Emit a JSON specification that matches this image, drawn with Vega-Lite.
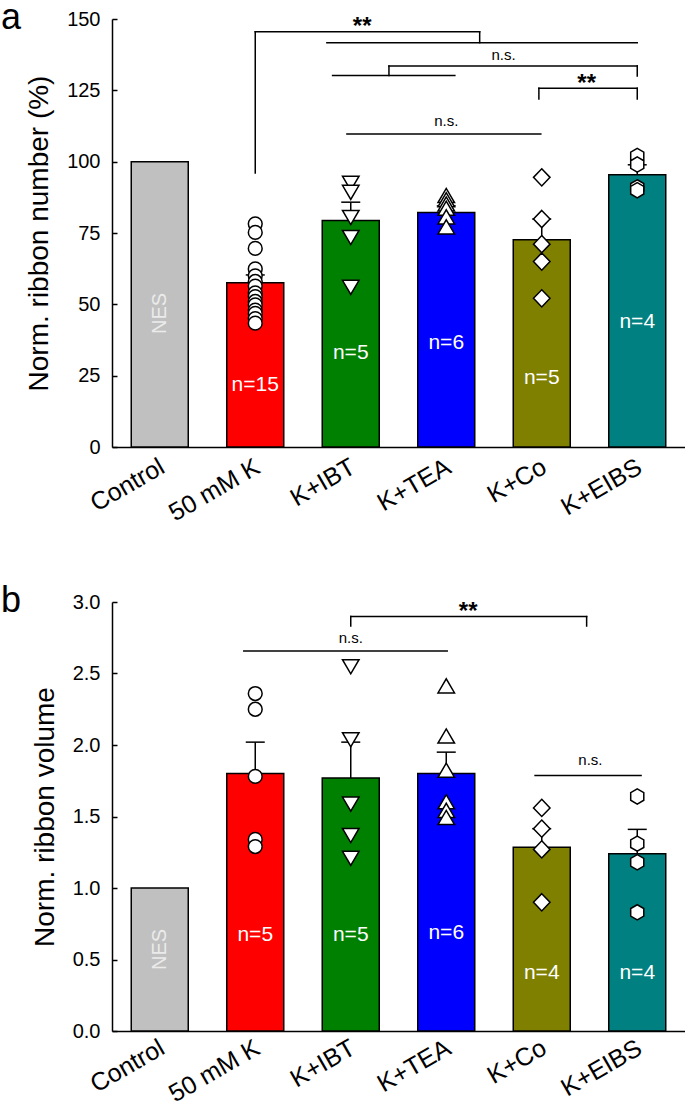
{
  "$schema": "https://vega.github.io/schema/vega-lite/v6.json",
  "background": "white",
  "padding": {"left": 1, "top": 0, "right": 0, "bottom": 0},
  "config": {
    "view": {"stroke": null},
    "font": "Liberation Sans",
    "axis": {"domainColor": "black", "domainWidth": 1.5, "tickColor": "black", "tickWidth": 1.5, "labelColor": "black", "titleColor": "black", "grid": false, "labelFont": "Liberation Sans", "titleFont": "Liberation Sans", "titleFontWeight": "normal", "labelFlush": false, "labelOverlap": false},
    "title": {"font": "Liberation Sans", "fontWeight": "normal", "fontSize": 36, "anchor": "start", "frame": "group", "baseline": "alphabetic", "offset": -28, "dx": -111, "dy": 0, "color": "black"},
    "concat": {"spacing": 57}
  },
  "datasets": {
    "bars": [
      {"p": "a", "x": 0, "g": "Control", "y": 100},
      {"p": "a", "x": 1, "g": "50 mM K", "y": 57.6, "top": 60.3},
      {"p": "a", "x": 2, "g": "K+IBT", "y": 79.4, "top": 85.8},
      {"p": "a", "x": 3, "g": "K+TEA", "y": 82.2, "top": 84.5},
      {"p": "a", "x": 4, "g": "K+Co", "y": 72.6, "top": 79.9},
      {"p": "a", "x": 5, "g": "K+EIBS", "y": 95.4, "top": 98.9},
      {"p": "b", "x": 0, "g": "Control", "y": 1.0},
      {"p": "b", "x": 1, "g": "50 mM K", "y": 1.80, "top": 2.02},
      {"p": "b", "x": 2, "g": "K+IBT", "y": 1.77, "top": 2.02},
      {"p": "b", "x": 3, "g": "K+TEA", "y": 1.80, "top": 1.95},
      {"p": "b", "x": 4, "g": "K+Co", "y": 1.285, "top": 1.415},
      {"p": "b", "x": 5, "g": "K+EIBS", "y": 1.24, "top": 1.41}
    ],
    "points": [
      {"p": "a", "x": 1, "g": "50 mM K", "y": 78.2},
      {"p": "a", "x": 1, "g": "50 mM K", "y": 75.2},
      {"p": "a", "x": 1, "g": "50 mM K", "y": 69.6},
      {"p": "a", "x": 1, "g": "50 mM K", "y": 62.4},
      {"p": "a", "x": 1, "g": "50 mM K", "y": 60.0},
      {"p": "a", "x": 1, "g": "50 mM K", "y": 58.0},
      {"p": "a", "x": 1, "g": "50 mM K", "y": 56.4},
      {"p": "a", "x": 1, "g": "50 mM K", "y": 54.0},
      {"p": "a", "x": 1, "g": "50 mM K", "y": 52.7},
      {"p": "a", "x": 1, "g": "50 mM K", "y": 51.0},
      {"p": "a", "x": 1, "g": "50 mM K", "y": 49.8},
      {"p": "a", "x": 1, "g": "50 mM K", "y": 48.0},
      {"p": "a", "x": 1, "g": "50 mM K", "y": 46.8},
      {"p": "a", "x": 1, "g": "50 mM K", "y": 45.0},
      {"p": "a", "x": 1, "g": "50 mM K", "y": 43.4},
      {"p": "a", "x": 2, "g": "K+IBT", "y": 93.1},
      {"p": "a", "x": 2, "g": "K+IBT", "y": 89.9},
      {"p": "a", "x": 2, "g": "K+IBT", "y": 81.1},
      {"p": "a", "x": 2, "g": "K+IBT", "y": 74.1},
      {"p": "a", "x": 2, "g": "K+IBT", "y": 56.6},
      {"p": "a", "x": 3, "g": "K+TEA", "y": 87.5},
      {"p": "a", "x": 3, "g": "K+TEA", "y": 86.0},
      {"p": "a", "x": 3, "g": "K+TEA", "y": 84.5},
      {"p": "a", "x": 3, "g": "K+TEA", "y": 83.0},
      {"p": "a", "x": 3, "g": "K+TEA", "y": 80.0},
      {"p": "a", "x": 3, "g": "K+TEA", "y": 76.5},
      {"p": "a", "x": 4, "g": "K+Co", "y": 94.5},
      {"p": "a", "x": 4, "g": "K+Co", "y": 79.9},
      {"p": "a", "x": 4, "g": "K+Co", "y": 71.1},
      {"p": "a", "x": 4, "g": "K+Co", "y": 65.0},
      {"p": "a", "x": 4, "g": "K+Co", "y": 52.1},
      {"p": "a", "x": 5, "g": "K+EIBS", "y": 102.0},
      {"p": "a", "x": 5, "g": "K+EIBS", "y": 99.0},
      {"p": "a", "x": 5, "g": "K+EIBS", "y": 91.0},
      {"p": "a", "x": 5, "g": "K+EIBS", "y": 90.0},
      {"p": "b", "x": 1, "g": "50 mM K", "y": 2.36},
      {"p": "b", "x": 1, "g": "50 mM K", "y": 2.25},
      {"p": "b", "x": 1, "g": "50 mM K", "y": 1.78},
      {"p": "b", "x": 1, "g": "50 mM K", "y": 1.34},
      {"p": "b", "x": 1, "g": "50 mM K", "y": 1.29},
      {"p": "b", "x": 2, "g": "K+IBT", "y": 2.56},
      {"p": "b", "x": 2, "g": "K+IBT", "y": 2.05},
      {"p": "b", "x": 2, "g": "K+IBT", "y": 1.60},
      {"p": "b", "x": 2, "g": "K+IBT", "y": 1.38},
      {"p": "b", "x": 2, "g": "K+IBT", "y": 1.22},
      {"p": "b", "x": 3, "g": "K+TEA", "y": 2.40},
      {"p": "b", "x": 3, "g": "K+TEA", "y": 2.05},
      {"p": "b", "x": 3, "g": "K+TEA", "y": 1.81},
      {"p": "b", "x": 3, "g": "K+TEA", "y": 1.59},
      {"p": "b", "x": 3, "g": "K+TEA", "y": 1.53},
      {"p": "b", "x": 3, "g": "K+TEA", "y": 1.48},
      {"p": "b", "x": 4, "g": "K+Co", "y": 1.56},
      {"p": "b", "x": 4, "g": "K+Co", "y": 1.415},
      {"p": "b", "x": 4, "g": "K+Co", "y": 1.27},
      {"p": "b", "x": 4, "g": "K+Co", "y": 0.90},
      {"p": "b", "x": 5, "g": "K+EIBS", "y": 1.64},
      {"p": "b", "x": 5, "g": "K+EIBS", "y": 1.31},
      {"p": "b", "x": 5, "g": "K+EIBS", "y": 1.18},
      {"p": "b", "x": 5, "g": "K+EIBS", "y": 0.83}
    ],
    "segs": [
      {"p": "a", "x": 1, "x2": 1, "y": 96, "y2": 145.5},
      {"p": "a", "x": 1, "x2": 3.35, "y": 145.5, "y2": 145.5},
      {"p": "a", "x": 3.35, "x2": 3.35, "y": 145.5, "y2": 141.7},
      {"p": "a", "x": 1.75, "x2": 5, "y": 141.7, "y2": 141.7},
      {"p": "a", "x": 2.4, "x2": 5, "y": 133.5, "y2": 133.5},
      {"p": "a", "x": 5, "x2": 5, "y": 133.5, "y2": 130},
      {"p": "a", "x": 2.4, "x2": 2.4, "y": 133.5, "y2": 130.2},
      {"p": "a", "x": 1.81, "x2": 3.09, "y": 130.2, "y2": 130.2},
      {"p": "a", "x": 3.97, "x2": 5, "y": 125.7, "y2": 125.7},
      {"p": "a", "x": 3.97, "x2": 3.97, "y": 125.7, "y2": 122},
      {"p": "a", "x": 5, "x2": 5, "y": 125.7, "y2": 122},
      {"p": "a", "x": 1.96, "x2": 3.99, "y": 109.7, "y2": 109.7},
      {"p": "b", "x": 2, "x2": 4.47, "y": 2.898, "y2": 2.898},
      {"p": "b", "x": 2, "x2": 2, "y": 2.898, "y2": 2.832},
      {"p": "b", "x": 4.47, "x2": 4.47, "y": 2.898, "y2": 2.832},
      {"p": "b", "x": 0.88, "x2": 3.01, "y": 2.657, "y2": 2.657},
      {"p": "b", "x": 3.93, "x2": 5.04, "y": 1.786, "y2": 1.786}
    ],
    "notes": [
      {"p": "a", "k": "star", "x": 2.12, "y": 144.6, "t": "**"},
      {"p": "a", "k": "ns", "x": 3.6, "y": 135.7, "t": "n.s."},
      {"p": "a", "k": "star", "x": 4.47, "y": 124.8, "t": "**"},
      {"p": "a", "k": "ns", "x": 3.0, "y": 112.4, "t": "n.s."},
      {"p": "a", "k": "n", "x": 1, "y": 19.5, "t": "n=15"},
      {"p": "a", "k": "n", "x": 2, "y": 30.9, "t": "n=5"},
      {"p": "a", "k": "n", "x": 3, "y": 34.4, "t": "n=6"},
      {"p": "a", "k": "n", "x": 4, "y": 22.1, "t": "n=5"},
      {"p": "a", "k": "n", "x": 5, "y": 41.7, "t": "n=4"},
      {"p": "a", "k": "nes", "x": 0, "y": 46.8, "t": "NES"},
      {"p": "b", "k": "star", "x": 3.23, "y": 2.88, "t": "**"},
      {"p": "b", "k": "ns", "x": 2.0, "y": 2.71, "t": "n.s."},
      {"p": "b", "k": "ns", "x": 4.51, "y": 1.863, "t": "n.s."},
      {"p": "b", "k": "n", "x": 1, "y": 0.626, "t": "n=5"},
      {"p": "b", "k": "n", "x": 2, "y": 0.626, "t": "n=5"},
      {"p": "b", "k": "n", "x": 3, "y": 0.642, "t": "n=6"},
      {"p": "b", "k": "n", "x": 4, "y": 0.362, "t": "n=4"},
      {"p": "b", "k": "n", "x": 5, "y": 0.362, "t": "n=4"},
      {"p": "b", "k": "nes", "x": 0, "y": 0.571, "t": "NES"}
    ]
  },
  "vconcat": [
    {
      "title": "a",
      "width": 573,
      "height": 428,
      "encoding": {
        "x": {"field": "x", "type": "quantitative", "scale": {"domain": [-0.5, 5.5], "nice": false, "zero": false, "padding": 0},
              "axis": {"values": [0, 1, 2, 3, 4, 5], "labelExpr": "['Control','50 mM K','K+IBT','K+TEA','K+Co','K+EIBS'][datum.value]", "labelAngle": -30, "labelAlign": "right", "labelBaseline": "top", "labelFontSize": 25, "labelPadding": 7, "labelOffset": -4, "ticks": false, "title": null}},
        "y": {"field": "y", "type": "quantitative", "scale": {"domain": [0, 150], "nice": false, "padding": 0},
              "axis": {"values": [0, 25, 50, 75, 100, 125, 150], "tickSize": -5, "labelPadding": 17, "labelFontSize": 20, "titleFontSize": 28, "title": "Norm. ribbon number (%)", "titlePadding": 13}}
      },
      "layer": [
        {"data": {"name": "bars"}, "transform": [{"filter": "datum.p == 'a'"}],
         "mark": {"type": "bar", "orient": "vertical", "size": 57, "stroke": "black", "strokeWidth": 1.5},
         "encoding": {"color": {"field": "g", "type": "nominal", "legend": null, "scale": {"domain": ["Control", "50 mM K", "K+IBT", "K+TEA", "K+Co", "K+EIBS"], "range": ["#c0c0c0", "#ff0000", "#008000", "#0000ff", "#808000", "#008080"]}}}},
        {"data": {"name": "bars"}, "transform": [{"filter": "datum.p == 'a' && isValid(datum.top)"}],
         "mark": {"type": "rule", "color": "black", "strokeWidth": 1.5},
         "encoding": {"y2": {"field": "top"}}},
        {"data": {"name": "bars"}, "transform": [{"filter": "datum.p == 'a' && isValid(datum.top)"}],
         "mark": {"type": "tick", "orient": "horizontal", "size": 19, "thickness": 1.5, "color": "black", "opacity": 1},
         "encoding": {"y": {"field": "top", "type": "quantitative"}}},
        {"data": {"name": "points"}, "transform": [{"filter": "datum.p == 'a'"}],
         "mark": {"type": "point", "filled": true, "fill": "white", "stroke": "black", "strokeWidth": 1.5, "size": 190, "opacity": 1},
         "encoding": {"shape": {"field": "g", "type": "nominal", "legend": null, "scale": {"domain": ["50 mM K", "K+IBT", "K+TEA", "K+Co", "K+EIBS"], "range": ["circle", "M-1.2,-0.75L1.2,-0.75L0,1.3Z", "M-1.2,0.75L1.2,0.75L0,-1.3Z", "M0,-1.25L1.2,0L0,1.25L-1.2,0Z", "M0,-1.1L0.95,-0.55L0.95,0.55L0,1.1L-0.95,0.55L-0.95,-0.55Z"]}}}},
        {"data": {"name": "segs"}, "transform": [{"filter": "datum.p == 'a'"}],
         "mark": {"type": "rule", "color": "black", "strokeWidth": 1.5, "strokeCap": "square"},
         "encoding": {"x2": {"field": "x2"}, "y2": {"field": "y2"}}},
        {"data": {"name": "notes"}, "transform": [{"filter": "datum.p == 'a' && datum.k == 'star'"}],
         "mark": {"type": "text", "fontSize": 24, "fontWeight": "bold", "align": "center", "baseline": "alphabetic", "color": "black"},
         "encoding": {"text": {"field": "t"}}},
        {"data": {"name": "notes"}, "transform": [{"filter": "datum.p == 'a' && datum.k == 'ns'"}],
         "mark": {"type": "text", "fontSize": 15, "align": "center", "baseline": "alphabetic", "color": "black"},
         "encoding": {"text": {"field": "t"}}},
        {"data": {"name": "notes"}, "transform": [{"filter": "datum.p == 'a' && datum.k == 'n'"}],
         "mark": {"type": "text", "fontSize": 21, "align": "center", "baseline": "alphabetic", "color": "white"},
         "encoding": {"text": {"field": "t"}}},
        {"data": {"name": "notes"}, "transform": [{"filter": "datum.p == 'a' && datum.k == 'nes'"}],
         "mark": {"type": "text", "fontSize": 20, "align": "center", "baseline": "middle", "angle": 270, "color": "#ebebeb"},
         "encoding": {"text": {"field": "t"}}}
      ]
    },
    {
      "title": "b",
      "width": 573,
      "height": 429,
      "encoding": {
        "x": {"field": "x", "type": "quantitative", "scale": {"domain": [-0.5, 5.5], "nice": false, "zero": false, "padding": 0},
              "axis": {"values": [0, 1, 2, 3, 4, 5], "labelExpr": "['Control','50 mM K','K+IBT','K+TEA','K+Co','K+EIBS'][datum.value]", "labelAngle": -30, "labelAlign": "right", "labelBaseline": "top", "labelFontSize": 25, "labelPadding": 4, "labelOffset": -4, "ticks": false, "title": null}},
        "y": {"field": "y", "type": "quantitative", "scale": {"domain": [0, 3], "nice": false, "padding": 0},
              "axis": {"values": [0, 0.5, 1, 1.5, 2, 2.5, 3], "format": ".1f", "tickSize": -5, "labelPadding": 17, "labelFontSize": 20, "titleFontSize": 28, "title": "Norm. ribbon volume", "titlePadding": 13}}
      },
      "layer": [
        {"data": {"name": "bars"}, "transform": [{"filter": "datum.p == 'b'"}],
         "mark": {"type": "bar", "orient": "vertical", "size": 57, "stroke": "black", "strokeWidth": 1.5},
         "encoding": {"color": {"field": "g", "type": "nominal", "legend": null, "scale": {"domain": ["Control", "50 mM K", "K+IBT", "K+TEA", "K+Co", "K+EIBS"], "range": ["#c0c0c0", "#ff0000", "#008000", "#0000ff", "#808000", "#008080"]}}}},
        {"data": {"name": "bars"}, "transform": [{"filter": "datum.p == 'b' && isValid(datum.top)"}],
         "mark": {"type": "rule", "color": "black", "strokeWidth": 1.5},
         "encoding": {"y2": {"field": "top"}}},
        {"data": {"name": "bars"}, "transform": [{"filter": "datum.p == 'b' && isValid(datum.top)"}],
         "mark": {"type": "tick", "orient": "horizontal", "size": 19, "thickness": 1.5, "color": "black", "opacity": 1},
         "encoding": {"y": {"field": "top", "type": "quantitative"}}},
        {"data": {"name": "points"}, "transform": [{"filter": "datum.p == 'b'"}],
         "mark": {"type": "point", "filled": true, "fill": "white", "stroke": "black", "strokeWidth": 1.5, "size": 190, "opacity": 1},
         "encoding": {"shape": {"field": "g", "type": "nominal", "legend": null, "scale": {"domain": ["50 mM K", "K+IBT", "K+TEA", "K+Co", "K+EIBS"], "range": ["circle", "M-1.2,-0.75L1.2,-0.75L0,1.3Z", "M-1.2,0.75L1.2,0.75L0,-1.3Z", "M0,-1.25L1.2,0L0,1.25L-1.2,0Z", "M0,-1.1L0.95,-0.55L0.95,0.55L0,1.1L-0.95,0.55L-0.95,-0.55Z"]}}}},
        {"data": {"name": "segs"}, "transform": [{"filter": "datum.p == 'b'"}],
         "mark": {"type": "rule", "color": "black", "strokeWidth": 1.5, "strokeCap": "square"},
         "encoding": {"x2": {"field": "x2"}, "y2": {"field": "y2"}}},
        {"data": {"name": "notes"}, "transform": [{"filter": "datum.p == 'b' && datum.k == 'star'"}],
         "mark": {"type": "text", "fontSize": 24, "fontWeight": "bold", "align": "center", "baseline": "alphabetic", "color": "black"},
         "encoding": {"text": {"field": "t"}}},
        {"data": {"name": "notes"}, "transform": [{"filter": "datum.p == 'b' && datum.k == 'ns'"}],
         "mark": {"type": "text", "fontSize": 15, "align": "center", "baseline": "alphabetic", "color": "black"},
         "encoding": {"text": {"field": "t"}}},
        {"data": {"name": "notes"}, "transform": [{"filter": "datum.p == 'b' && datum.k == 'n'"}],
         "mark": {"type": "text", "fontSize": 21, "align": "center", "baseline": "alphabetic", "color": "white"},
         "encoding": {"text": {"field": "t"}}},
        {"data": {"name": "notes"}, "transform": [{"filter": "datum.p == 'b' && datum.k == 'nes'"}],
         "mark": {"type": "text", "fontSize": 20, "align": "center", "baseline": "middle", "angle": 270, "color": "#ebebeb"},
         "encoding": {"text": {"field": "t"}}}
      ]
    }
  ]
}
